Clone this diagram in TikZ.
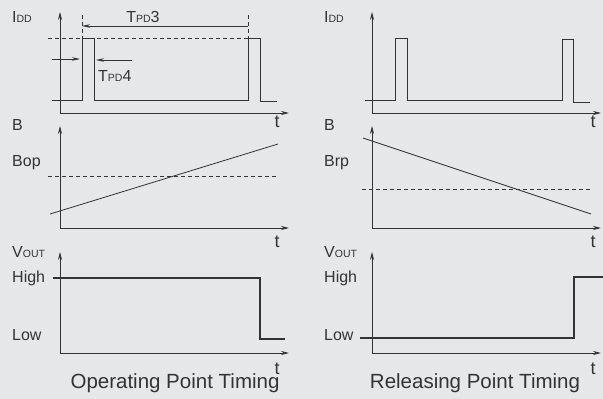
\documentclass[tikz,border=0pt]{standalone}
\usepackage{fontspec}
\setmainfont{Liberation Sans}
\usetikzlibrary{arrows.meta}
\definecolor{bg}{HTML}{E6E7E9}
\definecolor{ink}{HTML}{333333}
\newcommand{\lowtxt}[1]{{\fontsize{10.5}{10.5}\selectfont #1}}
\begin{document}
\begin{tikzpicture}[x=1pt,y=-1pt,
    axis/.style={draw=ink,line width=0.7pt,{Stealth[length=8pt,width=4pt]}-{Stealth[length=8pt,width=4pt]}},
    sig/.style={draw=ink,line width=0.8pt},
    outsig/.style={draw=ink,line width=1.9pt},
    guide/.style={draw=ink,line width=0.6pt,dash pattern=on 4pt off 3pt},
    dimline/.style={draw=ink,line width=0.6pt,-{Stealth[length=8pt,width=3.5pt]}},
    every node/.style={text=ink,inner sep=0pt,font=\fontsize{16}{16}\selectfont},
    tlabel/.style={font=\fontsize{18}{18}\selectfont},
    caption/.style={font=\fontsize{20.5}{20.5}\selectfont}]

  \fill[bg] (0,0) rectangle (603,399);
  \useasboundingbox (0,0) rectangle (603,399);

  % axes
  \begin{scope}
    \coordinate (ya1) at (60,12);  \coordinate (o1) at (60,113); \coordinate (xa1) at (289,113);
    \coordinate (ya2) at (60,126); \coordinate (o2) at (60,228); \coordinate (xa2) at (289,228);
    \coordinate (ya3) at (60,252); \coordinate (o3) at (60,353); \coordinate (xa3) at (289,353);
    \coordinate (ya4) at (372,12);  \coordinate (o4) at (372,113); \coordinate (xa4) at (601,113);
    \coordinate (ya5) at (372,126); \coordinate (o5) at (372,228); \coordinate (xa5) at (601,228);
    \coordinate (ya6) at (372,252); \coordinate (o6) at (372,353); \coordinate (xa6) at (601,353);
    \foreach \i in {1,...,6}
      \draw[axis] (ya\i) -- (o\i) -- (xa\i);
  \end{scope}

  % axis labels
  \begin{scope}[every node/.append style={anchor=west}]
    \node (idd1) at (12,17)  {I\lowtxt{DD}};
    \node (b1)   at (12,125) {B};
    \node (bop)  at (12,163) {Bop};
    \node (vout1) at (12,252) {V\lowtxt{OUT}};
    \node (high1) at (12,278) {High};
    \node (low1)  at (12,335) {Low};
    \node (idd2) at (324,17)  {I\lowtxt{DD}};
    \node (b2)   at (324,125) {B};
    \node (brp)  at (324,163) {Brp};
    \node (vout2) at (324,252) {V\lowtxt{OUT}};
    \node (high2) at (324,278) {High};
    \node (low2)  at (324,335) {Low};
  \end{scope}
  \foreach \n/\x/\y in {t1/277/122,t2/277/242,t3/277/369,t4/593/122,t5/593/242,t6/593/369}
    \node[tlabel] (\n) at (\x,\y) {t};

  % supply current
  \draw[sig] (52,100) -- (82,100) -- (82,38) -- (94,38) -- (94,100) -- (248,100)
    -- (248,38) -- (260,38) -- (260,101) -- (277,101);
  \draw[sig] (365,100) -- (395,100) -- (395,38) -- (407,38) -- (407,100) -- (562,100)
    -- (562,39) -- (573,39) -- (573,102) -- (590,102);
  \draw[guide] (48,38) -- (248,38);
  \coordinate (p3a) at (82,26);  \coordinate (p3b) at (248,26);
  \draw[guide] (82,15) -- (82,38);
  \draw[guide] (248,15) -- (248,38);
  \draw[dimline,{Stealth[length=8pt,width=3.5pt]}-] (p3a) -- (p3b);
  \node (tpd3) at (143,17) {T\lowtxt{PD}3};
  \coordinate (p4a) at (52,59);  \coordinate (p4b) at (80,59);
  \coordinate (p4c) at (132,60); \coordinate (p4d) at (96,60);
  \draw[dimline] (p4a) -- (p4b);
  \draw[dimline] (p4c) -- (p4d);
  \node[anchor=west] (tpd4) at (98,76) {T\lowtxt{PD}4};

  % magnetic flux density
  \draw[guide] (48,176) -- (277,176);
  \draw[sig] (50,214) -- (278,144);
  \draw[sig] (363,138) -- (591,214);
  \draw[guide] (362,189) -- (592,189);

  % output
  \draw[outsig] (53,278) -- (260,278) -- (260,339) -- (285,339);
  \draw[outsig] (360,338) -- (574,338) -- (574,277) -- (603,277);

  \node[caption] (cap1) at (175,383) {Operating Point Timing};
  \node[caption] (cap2) at (475,383) {Releasing Point Timing};

\end{tikzpicture}
\end{document}
